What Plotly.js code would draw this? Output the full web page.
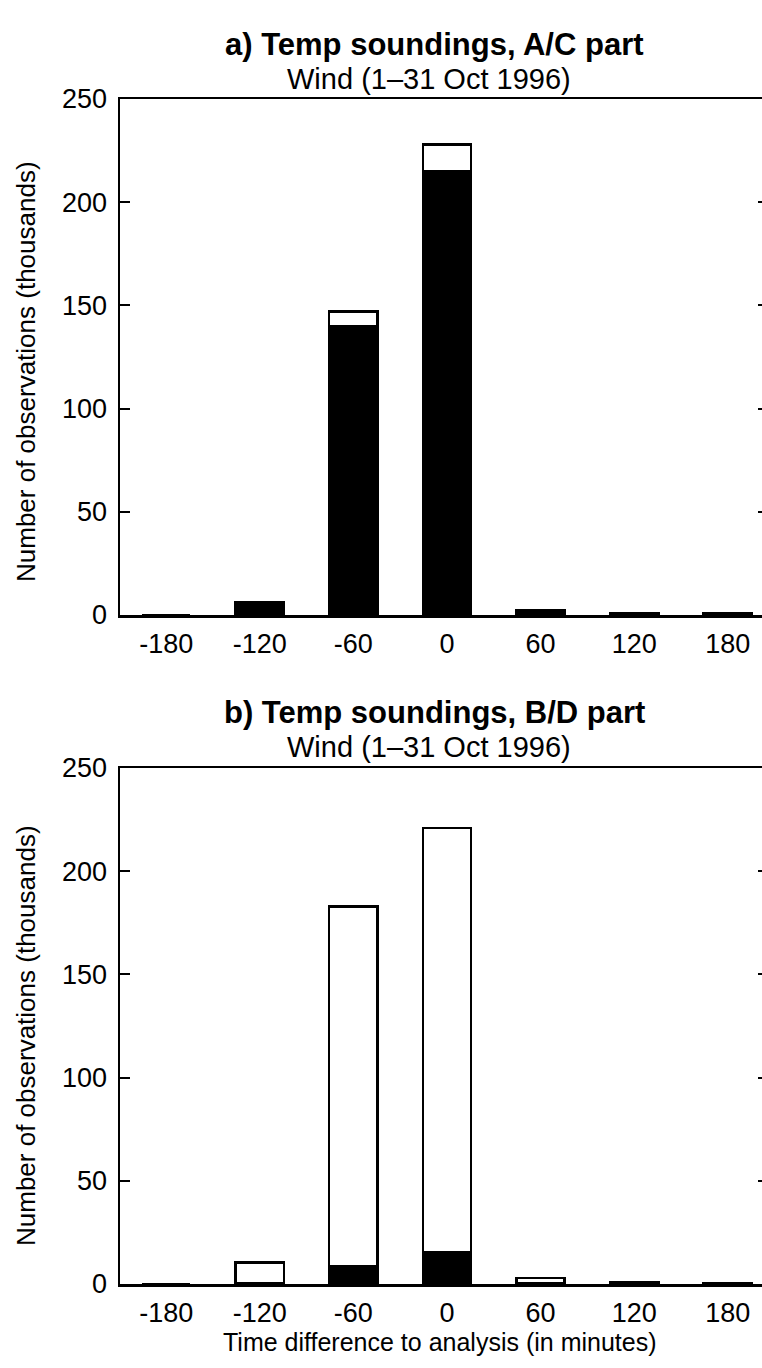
<!DOCTYPE html>
<html>
<head>
<meta charset="utf-8">
<script src="https://cdn.plot.ly/plotly-3.0.1.min.js"></script>
<style>
html,body{margin:0;padding:0;overflow:hidden;background:#fff;}
#chart{width:780px;height:1368px;}
</style>
</head>
<body>
<div id="chart"></div>
<script>
// Data (thousands of observations)
const timeDiff = [-180, -120, -60, 0, 60, 120, 180];
const tickVals = [-180, -120, -60, 0, 60, 120, 180];
const tickText = ['-180', '-120', '-60', '0', '60', '120', '180'];
const yTicks = [0, 50, 100, 150, 200, 250];

// a) A/C part: black = used, white = remaining part of total
const acBlack = [0, 6, 140, 215, 2.5, 0.7, 0.7];
const acWhite = [0, 0, 7, 13, 0, 0, 0];

// b) B/D part
const bdBlack = [0, 0.3, 8.5, 15.5, 0.5, 1, 0.5];
const bdWhite = [0, 10, 174.5, 205.5, 2.5, 0, 0];

const titleA = 'a) Temp soundings, A/C part';
const titleB = 'b) Temp soundings, B/D part';
const subTitle = 'Wind (1–31 Oct 1996)';
const yTitle = 'Number of observations (thousands)';
const xTitle = 'Time difference to analysis (in minutes)';

const W = 780, H = 1368;
const FONT = 'Liberation Sans, Arial, sans-serif';
const px = v => v / W;
const py = v => 1 - v / H;

function bar(y, color, xa, ya) {
  return {
    type: 'bar', x: timeDiff, y: y, width: 31,
    marker: {color: color, line: {color: '#000', width: 2.5}},
    xaxis: xa, yaxis: ya, showlegend: false, hoverinfo: 'skip'
  };
}

const data = [
  bar(acBlack, '#000', 'x', 'y'),
  bar(acWhite, '#fff', 'x', 'y'),
  bar(bdBlack, '#000', 'x2', 'y2'),
  bar(bdWhite, '#fff', 'x2', 'y2')
];

function xaxis(dom, anchor) {
  return {
    domain: dom, anchor: anchor, range: [-209.6, 205.8],
    tickvals: tickVals, ticktext: tickText, ticks: '',
    showline: true, linecolor: '#000', linewidth: 2.5, mirror: true,
    showgrid: false, zeroline: false, ticklabelstandoff: 3,
    tickfont: {family: FONT, size: 27, color: '#000'}
  };
}
function yaxis(dom, anchor) {
  return {
    domain: dom, anchor: anchor, range: [0, 250],
    tickvals: yTicks, ticks: 'inside', ticklen: 10, tickwidth: 2, tickcolor: '#000',
    showline: true, linecolor: '#000', linewidth: 2.5, mirror: 'ticks',
    showgrid: false, zeroline: false, ticklabelstandoff: 5,
    tickfont: {family: FONT, size: 27, color: '#000'}
  };
}

const xDom = [px(120), px(768)];
const layout = {
  width: W, height: H,
  margin: {l: 0, r: 0, t: 0, b: 0},
  paper_bgcolor: '#fff', plot_bgcolor: '#fff',
  barmode: 'stack', bargap: 0,
  xaxis: xaxis(xDom, 'y'),
  yaxis: yaxis([py(615), py(99)], 'x'),
  xaxis2: xaxis(xDom, 'y2'),
  yaxis2: yaxis([py(1284), py(768)], 'x2'),
  annotations: [
    {text: '<b>' + titleA + '</b>', x: px(434), y: py(44), xref: 'paper', yref: 'paper', xanchor: 'center', yanchor: 'middle', showarrow: false, font: {family: FONT, size: 31, color: '#000'}},
    {text: subTitle, x: px(429), y: py(79), xref: 'paper', yref: 'paper', xanchor: 'center', yanchor: 'middle', showarrow: false, font: {family: FONT, size: 29, color: '#000'}},
    {text: '<b>' + titleB + '</b>', x: px(434), y: py(712), xref: 'paper', yref: 'paper', xanchor: 'center', yanchor: 'middle', showarrow: false, font: {family: FONT, size: 31, color: '#000'}},
    {text: subTitle, x: px(429), y: py(747), xref: 'paper', yref: 'paper', xanchor: 'center', yanchor: 'middle', showarrow: false, font: {family: FONT, size: 29, color: '#000'}},
    {text: yTitle, x: px(26), y: py(372), xref: 'paper', yref: 'paper', xanchor: 'center', yanchor: 'middle', showarrow: false, textangle: -90, font: {family: FONT, size: 26, color: '#000'}},
    {text: yTitle, x: px(26), y: py(1036), xref: 'paper', yref: 'paper', xanchor: 'center', yanchor: 'middle', showarrow: false, textangle: -90, font: {family: FONT, size: 26, color: '#000'}},
    {text: xTitle, x: px(440), y: py(1342), xref: 'paper', yref: 'paper', xanchor: 'center', yanchor: 'middle', showarrow: false, font: {family: FONT, size: 25, color: '#000'}}
  ]
};

Plotly.newPlot('chart', data, layout, {staticPlot: true, displayModeBar: false});
</script>
</body>
</html>
